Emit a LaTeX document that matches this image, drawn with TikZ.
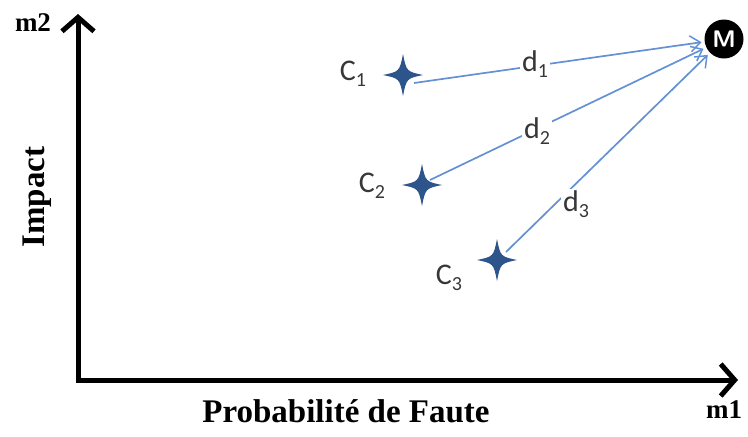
\documentclass[tikz,border=0pt]{standalone}
\usepackage{fontspec}
\setmainfont{Liberation Serif}
\newfontfamily\calib{Carlito}
\usetikzlibrary{arrows.meta}
\definecolor{linkblue}{RGB}{100,145,212}
\definecolor{stardark}{RGB}{45,85,140}
\definecolor{labgray}{RGB}{55,55,55}
\tikzset{
  axisline/.style={line width=5pt, -{Straight Barb[length=14pt,width=32pt,line width=5pt]}},
  link/.style={draw=linkblue, line width=1.7pt, -{Straight Barb[length=10pt,width=16pt,line width=1.5pt]}, shorten >=3pt},
  axlab/.style={font=\bfseries\fontsize{27}{30}\selectfont, inner sep=0pt},
  bigbold/.style={font=\bfseries\fontsize{33}{36}\selectfont, inner sep=0pt},
  clab/.style={font=\calib\fontsize{30}{32}\selectfont, text=labgray, inner sep=0pt},
  dlab/.style={clab, fill=white, inner sep=2pt},
  cstar/.pic={\fill[stardark] (0,-21) .. controls (3.5,-3.5) .. (20,0) .. controls (3.5,3.5) .. (0,21) .. controls (-3.5,3.5) .. (-20,0) .. controls (-3.5,-3.5) .. cycle;}
}
\newcommand{\sub}[1]{\raisebox{-0.4ex}{\fontsize{20}{22}\selectfont #1}}
\begin{document}
\begin{tikzpicture}[x=1pt,y=-1pt]
\useasboundingbox (0,0) rectangle (748,437);
% axes
\coordinate (O) at (78,380);
\coordinate (Ytop) at (78,14);
\coordinate (Xend) at (738,380);
\draw[axisline] (O) -- (Ytop);
\draw[axisline] ([xshift=-2.5pt]O) -- (Xend);
\node[axlab] (m2) at (33,23) {m2};
\node[axlab] (m1) at (724,410) {m1};
\node[bigbold, rotate=90, anchor=base] (imp) at (45,197) {Impact};
\node[bigbold, anchor=base] (prob) at (346,422) {Probabilité de Faute};
% points
\node[circle, fill=black, minimum size=39pt, inner sep=0pt, text=white, font=\sffamily\bfseries\fontsize{24}{24}\selectfont] (M) at (724,39) {M};
\coordinate (s1) at (403,75);
\coordinate (s2) at (422,185);
\coordinate (s3) at (497,260);
\pic at (s1) {cstar};
\pic at (s2) {cstar};
\pic at (s3) {cstar};
\coordinate (e1) at (414,83);
\coordinate (e2) at (430,180);
\coordinate (e3) at (506,252);
\draw[link] (e1) -- (M);
\draw[link] (e2) -- (M);
\draw[link] (e3) -- (M);
\node[clab] (c1) at (353,74) {C\sub{1}};
\node[clab] (c2) at (372,186) {C\sub{2}};
\node[clab] (c3) at (449,278) {C\sub{3}};
\node[dlab] (d1) at (535,64) {d\sub{1}};
\node[dlab] (d2) at (537,131) {d\sub{2}};
\node[dlab] (d3) at (576,204) {d\sub{3}};
\end{tikzpicture}
\end{document}
